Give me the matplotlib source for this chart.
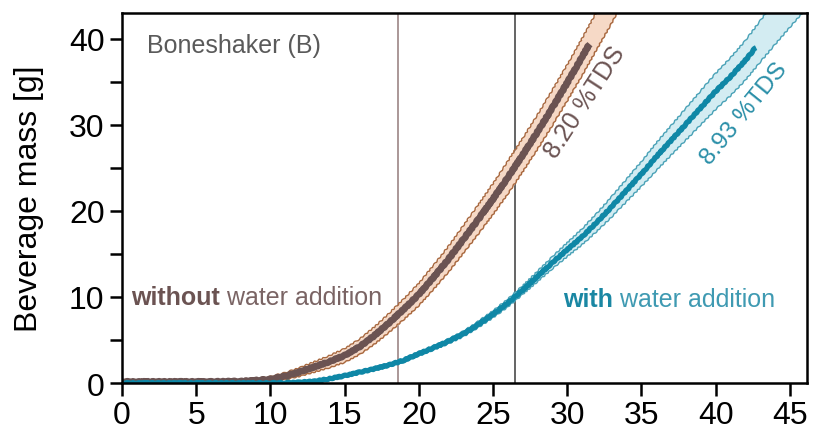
import matplotlib
matplotlib.use("Agg")
import matplotlib.pyplot as plt

plt.rcParams['font.family'] = ['Liberation Sans', 'DejaVu Sans']

# --- datos ---
# sin adicion de agua (marron)
brown_x = [0, 2, 4, 6, 8, 9, 10, 11, 12, 13, 14, 15, 16, 17, 18, 19, 20, 21, 22,
           23, 24, 25, 26, 27, 28, 29, 30, 31, 31.5]
brown_y = [0.15, 0.15, 0.15, 0.15, 0.2, 0.3, 0.45, 0.8, 1.3, 1.9, 2.5, 3.2, 4.2,
           5.5, 7.0, 8.6, 10.3, 12.3, 14.4, 16.7, 19.0, 21.4, 23.9, 26.5, 29.2,
           32.0, 34.9, 37.9, 39.4]
brown_band_x = [0, 2, 4, 6, 8, 9, 10, 11, 12, 13, 14, 15, 16, 17, 18, 19, 20, 21,
                22, 23, 24, 25, 26, 27, 28, 29, 30, 31, 32, 33, 34]
brown_lo = [0.0, 0.0, 0.0, 0.0, 0.0, 0.05, 0.15, 0.4, 0.8, 1.3, 1.8, 2.4, 3.3,
            4.5, 5.9, 7.4, 9.0, 10.9, 12.9, 15.1, 17.3, 19.6, 22.0, 24.55, 27.2,
            29.95, 32.8, 35.75, 38.8, 41.85, 45.0]
brown_hi = [0.3, 0.3, 0.3, 0.3, 0.4, 0.55, 0.75, 1.2, 1.8, 2.5, 3.2, 4.0, 5.1,
            6.5, 8.1, 9.8, 11.6, 13.7, 15.9, 18.3, 20.7, 23.2, 25.8, 28.45, 31.2,
            34.05, 37.0, 40.05, 43.2, 46.35, 49.6]

# con adicion de agua (azul)
blue_x = [0, 5, 10, 11, 12, 13, 14, 15, 16, 17, 18, 19, 20, 21, 22, 23, 24, 25,
          26, 27, 28, 29, 30, 31, 32, 33, 34, 35, 36, 37, 38, 39, 40, 41, 42, 42.7]
blue_y = [0, 0, 0, 0.02, 0.08, 0.2, 0.5, 0.85, 1.25, 1.65, 2.1, 2.65, 3.4, 4.1,
          4.85, 5.7, 6.8, 8.0, 9.3, 10.8, 12.4, 14.0, 15.5, 17.0, 18.7, 20.5,
          22.4, 24.3, 26.3, 28.2, 30.1, 32.0, 33.9, 35.6, 37.5, 39.0]
blue_band_x = [0, 5, 10, 11, 12, 13, 14, 15, 16, 17, 18, 19, 20, 21, 22, 23, 24,
               25, 26, 27, 28, 29, 30, 31, 32, 33, 34, 35, 36, 37, 38, 39, 40, 41,
               42, 43, 44, 45, 46, 47]
blue_lo = [-0.1, -0.1, -0.1, -0.08, -0.02, 0.1, 0.4, 0.73, 1.11, 1.49, 1.92,
           2.45, 3.18, 3.85, 4.57, 5.39, 6.45, 7.6, 8.85, 10.3, 11.8, 13.3, 14.7,
           16.08, 17.65, 19.32, 21.1, 22.85, 24.7, 26.48, 28.25, 30.02, 31.8,
           33.4, 35.2, 37.3, 39.35, 41.35, 43.3, 45.3]
blue_hi = [0.1, 0.1, 0.1, 0.12, 0.18, 0.3, 0.6, 0.97, 1.39, 1.81, 2.28, 2.85,
           3.62, 4.35, 5.13, 6.01, 7.15, 8.4, 9.75, 11.3, 13.0, 14.7, 16.3, 17.92,
           19.75, 21.68, 23.7, 25.75, 27.9, 29.92, 31.95, 33.98, 36.0, 37.8, 39.8,
           42.1, 44.45, 46.85, 49.3, 51.7]

vlines = [18.6, 26.46]
xticks = [0, 5, 10, 15, 20, 25, 30, 35, 40, 45]
yticks = [0, 5, 10, 15, 20, 25, 30, 35, 40]
ylabels = ['0', '', '10', '', '20', '', '30', '', '40']

# colores
brown_c = '#6b5352'
brown_edge = '#a8683f'
brown_fill = '#f6d9c6'
blue_c = '#0f87a6'
blue_edge = '#4aa2b7'
blue_fill = '#d3ecf2'

fig = plt.figure(figsize=(8.13, 4.35), dpi=100)
ax = fig.add_axes([0.150, 0.1172, 0.8426, 0.8506])

# lineas verticales
ax.axvline(vlines[0], color='#9c8585', lw=1.2, zorder=1)
ax.axvline(vlines[1], color='#4a4a4a', lw=1.2, zorder=1)

# banda marron
ax.fill_between(brown_band_x, brown_lo, brown_hi, color=brown_fill, lw=0, zorder=2)
for yy in (brown_lo, brown_hi):
    ln, = ax.plot(brown_band_x, yy, color=brown_edge, lw=1.0, zorder=3)
    ln.set_sketch_params(0.6, 6, 2)
ln, = ax.plot(brown_x, brown_y, color=brown_c, lw=4.8, zorder=4,
              solid_capstyle='butt')
ln.set_sketch_params(0.5, 6, 2)

# banda azul
ax.fill_between(blue_band_x, blue_lo, blue_hi, color=blue_fill, lw=0, zorder=5)
for yy in (blue_lo, blue_hi):
    ln, = ax.plot(blue_band_x, yy, color=blue_edge, lw=1.0, zorder=6)
    ln.set_sketch_params(0.6, 6, 2)
ln, = ax.plot(blue_x, blue_y, color=blue_c, lw=3.8, zorder=7,
              solid_capstyle='butt')
ln.set_sketch_params(0.5, 6, 2)

# textos
ax.text(1.7, 39.3, 'Boneshaker (B)', fontsize=18, color='#5a5a5a',
        va='center', ha='left')
t1 = ax.text(0.6, 10.0, 'without', fontsize=18, color=brown_c,
             fontweight='bold', va='center', ha='left')
ax.annotate(' water addition', xy=(1, 0), xycoords=t1, fontsize=18,
            color='#7a6464', va='bottom', ha='left')
t2 = ax.text(29.7, 9.8, 'with', fontsize=18, color='#1a87a3',
             fontweight='bold', va='center', ha='left')
ax.annotate(' water addition', xy=(1, 0), xycoords=t2, fontsize=18,
            color='#3f9ab2', va='bottom', ha='left')
ax.text(31.2, 32.7, '8.20 %TDS', fontsize=18, color=brown_c, rotation=57,
        va='center', ha='center', rotation_mode='anchor')
ax.text(41.9, 31.4, '8.93 %TDS', fontsize=17.5, color='#2a8fa8', rotation=51,
        va='center', ha='center', rotation_mode='anchor')

ax.set_xlim(0, 46.15)
ax.set_ylim(0, 43.0)
ax.set_xticks(xticks)
ax.set_yticks(yticks)
ax.set_yticklabels(ylabels)
ax.tick_params(labelsize=23, width=1.8, length=9, direction='out')
ax.set_ylabel('Beverage mass [g]', fontsize=23, labelpad=18)
for s in ax.spines.values():
    s.set_linewidth(1.8)
    s.set_zorder(10)

fig.savefig('out.png', dpi=100)
